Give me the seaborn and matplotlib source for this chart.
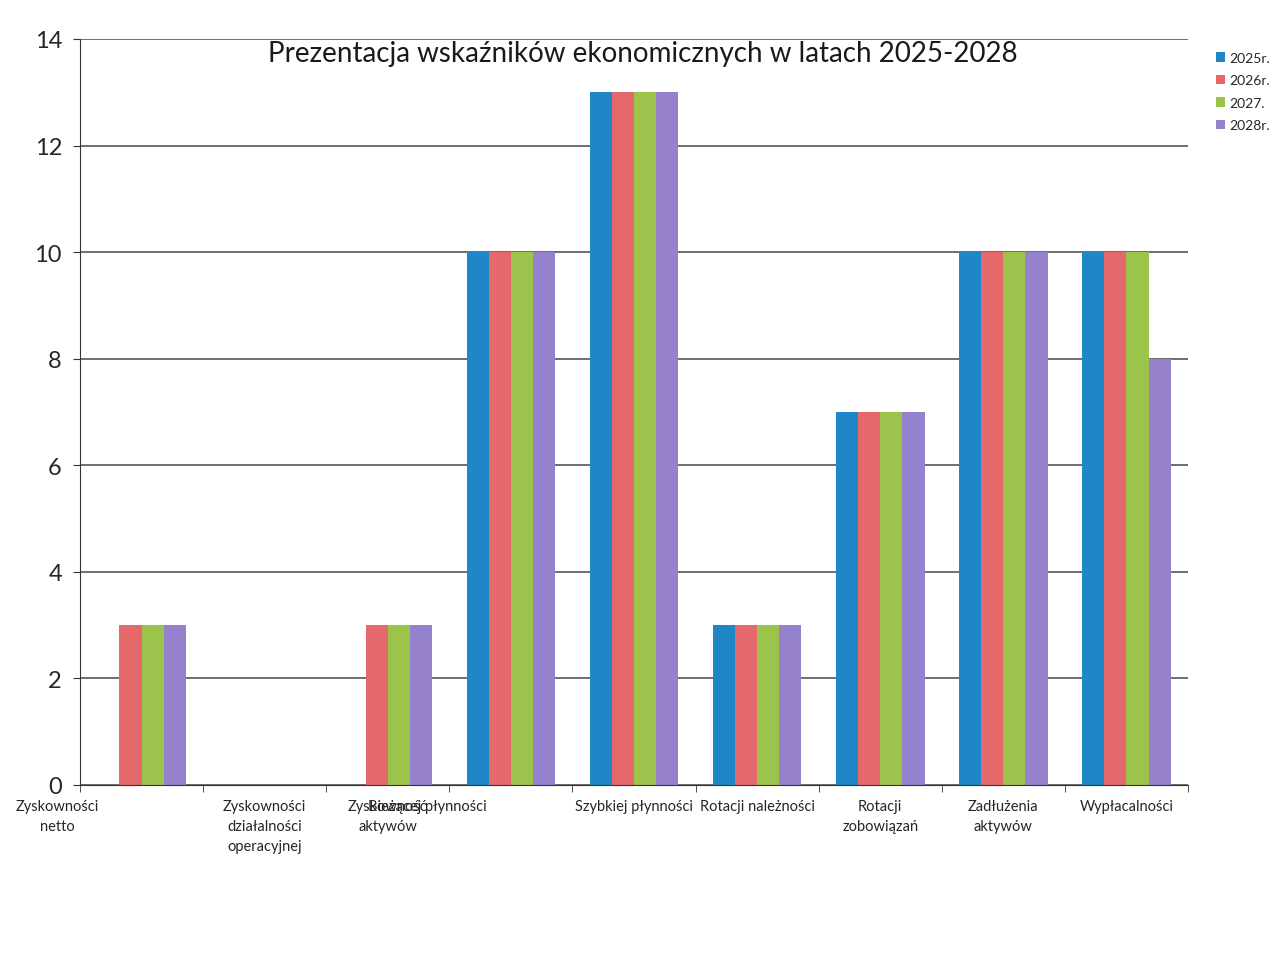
import numpy as np
import pandas as pd
import matplotlib
matplotlib.use("Agg")
import matplotlib.pyplot as plt
import matplotlib.transforms as mtransforms
import seaborn as sns

# dane
categories = [
    "Zyskowności\nnetto",
    "Zyskowności\ndziałalności\noperacyjnej",
    "Zyskowność\naktywów",
    "Bieżącej płynności",
    "Szybkiej płynności",
    "Rotacji należności",
    "Rotacji\nzobowiązań",
    "Zadłużenia\naktywów",
    "Wypłacalności",
]
years = ["2025r.", "2026r.", "2027.", "2028r."]
v2025 = [0, 0, 0, 10, 13, 3, 7, 10, 10]
v2026 = [3, 0, 3, 10, 13, 3, 7, 10, 10]
v2027 = [3, 0, 3, 10, 13, 3, 7, 10, 10]
v2028 = [3, 0, 3, 10, 13, 3, 7, 10, 8]
colors = ["#1f87c8", "#e5686a", "#9cc34c", "#9682cc"]

df = pd.DataFrame({
    "kategoria": categories * 4,
    "rok": np.repeat(years, len(categories)),
    "wartosc": v2025 + v2026 + v2027 + v2028,
})

sns.set_style("white")
plt.rcParams["font.family"] = ["Lato", "DejaVu Sans"]

fig = plt.figure(figsize=(12.69, 9.78), dpi=100)
ax = fig.add_axes([80 / 1269, 1 - 786 / 978, 1108 / 1269, 746 / 978])

sns.barplot(data=df, x="kategoria", y="wartosc", hue="rok", palette=colors,
            width=0.72, saturation=1, linewidth=0, ax=ax, legend=True)

ax.set_ylim(0, 14)
ax.set_xlim(-0.5, len(categories) - 0.5)
ax.set_yticks(range(0, 15, 2))
ax.yaxis.grid(True, color="#555555", linewidth=1.2)
ax.set_axisbelow(True)
ax.set_xlabel("")
ax.set_ylabel("")

for s in ["top", "right"]:
    ax.spines[s].set_visible(False)
ax.spines["left"].set_color("#333333")
ax.spines["bottom"].set_color("#333333")

ax.tick_params(axis="y", labelsize=17, left=True, length=5, color="#333333", pad=8)
ax.set_xticks(np.arange(-0.5, len(categories)), minor=True)
ax.tick_params(axis="x", which="major", length=0, labelsize=10.5, pad=10)
ax.tick_params(axis="x", which="minor", bottom=True, length=5, color="#333333")

# przesunięte etykiety jak w oryginale
for i, lab in enumerate(ax.get_xticklabels()):
    lab.set_linespacing(1.55)
    if i in (0, 3):
        lab.set_transform(lab.get_transform() +
                          mtransforms.ScaledTranslation(-0.84, 0, fig.dpi_scale_trans))

ax.text(0.508, 0.999, "Prezentacja wskaźników ekonomicznych w latach 2025-2028",
        transform=ax.transAxes, ha="center", va="top", fontsize=20, color="#1a1a1a")

ax.legend(loc="upper left", bbox_to_anchor=(1.02, 0.99), frameon=False,
          fontsize=10, handlelength=0.7, handleheight=0.7, handletextpad=0.25,
          labelspacing=0.75, borderaxespad=0)

fig.savefig("out.png", dpi=100)
